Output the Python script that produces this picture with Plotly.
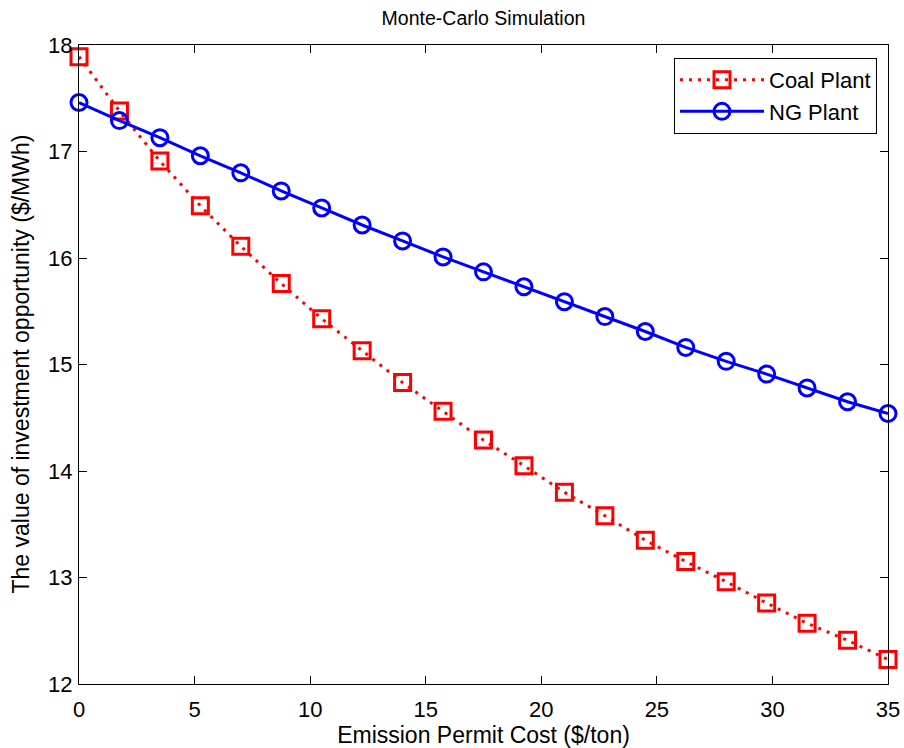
import plotly.graph_objects as go

x_cost = [0, 1.75, 3.5, 5.25, 7, 8.75, 10.5, 12.25, 14, 15.75, 17.5, 19.25, 21, 22.75, 24.5, 26.25, 28, 29.75, 31.5, 33.25, 35]
coal = [17.89, 17.38, 16.91, 16.49, 16.11, 15.76, 15.43, 15.13, 14.83, 14.56, 14.29, 14.05, 13.80, 13.58, 13.35, 13.15, 12.96, 12.76, 12.57, 12.41, 12.23]
ng = [17.46, 17.29, 17.13, 16.96, 16.80, 16.63, 16.47, 16.31, 16.16, 16.01, 15.87, 15.73, 15.59, 15.45, 15.31, 15.16, 15.03, 14.91, 14.78, 14.65, 14.54]
x_ticks = [0, 5, 10, 15, 20, 25, 30, 35]
y_ticks = [12, 13, 14, 15, 16, 17, 18]

font = "Liberation Sans, Arial, sans-serif"
L, R, T, B = 79, 888, 45, 684

fig = go.Figure()
fig.add_trace(go.Scatter(
    x=x_cost, y=coal, name="Coal Plant", mode="lines+markers",
    line=dict(color="#ff0000", width=3, dash="3px,6px"),
    marker=dict(symbol="square-open", size=16, color="#ff0000", line=dict(width=3, color="#ff0000")),
    cliponaxis=False,
))
fig.add_trace(go.Scatter(
    x=x_cost, y=ng, name="NG Plant", mode="lines+markers",
    line=dict(color="#0000ff", width=3),
    marker=dict(symbol="circle-open", size=16, color="#0000ff", line=dict(width=3, color="#0000ff")),
    cliponaxis=False,
))

axis_common = dict(
    showgrid=False, zeroline=False, showline=True, linecolor="black", linewidth=1.3,
    mirror="ticks", ticks="inside", ticklen=8, tickcolor="black", tickwidth=1,
    tickfont=dict(family=font, size=22, color="black"),
    automargin=False,
)

fig.update_layout(
    width=904, height=748,
    paper_bgcolor="white", plot_bgcolor="white",
    margin=dict(l=L, r=904 - R, t=T, b=748 - B),
    title=dict(text="Monte-Carlo Simulation", x=(L + R) / 2 / 904, xanchor="center",
               y=1 - 18 / 748, yanchor="middle",
               font=dict(family=font, size=19.5, color="black")),
    xaxis=dict(range=[0, 35], tickvals=x_ticks, ticklabelstandoff=5,
               title=dict(text="Emission Permit Cost ($/ton)", font=dict(family=font, size=23, color="black"), standoff=2),
               **axis_common),
    yaxis=dict(range=[12, 18], tickvals=y_ticks, ticklabelstandoff=1,
               **axis_common),
    annotations=[dict(
        text="The value of investment opportunity ($/MWh)", textangle=-90,
        xref="paper", yref="paper", x=(20 - L) / (R - L), y=0.5,
        xanchor="center", yanchor="middle", showarrow=False,
        font=dict(family=font, size=23, color="black"),
    )],
    legend=dict(x=0.9864, xanchor="right", y=0.9797, yanchor="top",
                bgcolor="white", bordercolor="black", borderwidth=1,
                font=dict(family=font, size=22, color="black"),
                itemwidth=84, tracegroupgap=0),
    showlegend=True,
)

fig.write_html("out.html", config={"displayModeBar": False},
               post_script="document.body.style.margin='0';")
